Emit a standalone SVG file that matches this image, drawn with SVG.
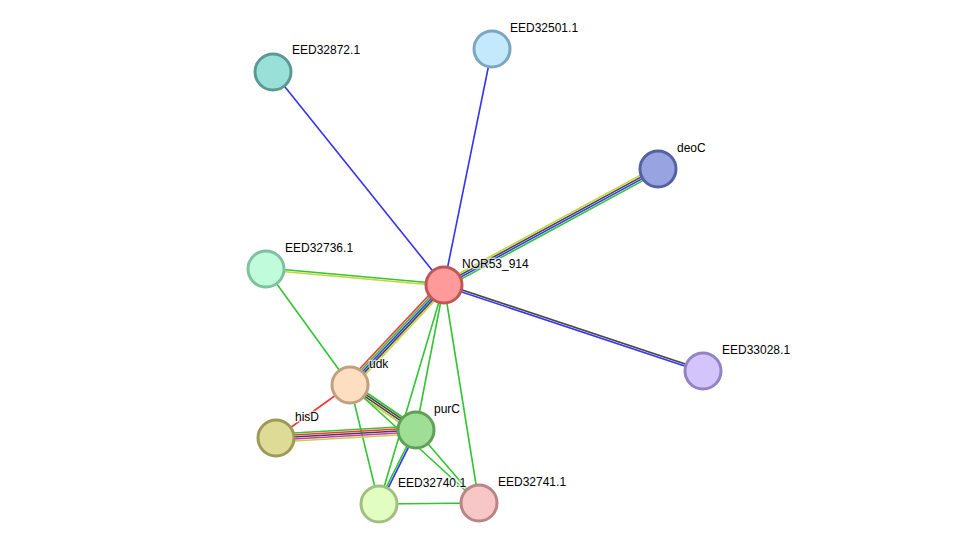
<svg xmlns="http://www.w3.org/2000/svg" width="975" height="550" viewBox="0 0 975 550">
<style>
.e line{stroke-width:1.6;fill:none}
.g{stroke:#33c433}.b{stroke:#3333f0}.y{stroke:#c4d43a}.k{stroke:#444}.r{stroke:#f33}.m{stroke:#c3c}
.n circle{stroke-width:3}
.n text{font-family:"Liberation Sans",Arial,sans-serif;font-size:12px;fill:#000;stroke:#fff;stroke-width:2.5;stroke-opacity:0.7;paint-order:stroke;stroke-linejoin:round}
</style>
<rect width="975" height="550" fill="#fff"/>
<g id="edges" class="e">
<line class="b" x1="444" y1="285" x2="273" y2="72"/>
<line class="b" x1="444" y1="285" x2="492" y2="49"/>
<line class="y" x1="442.57" y1="282.36" x2="656.57" y2="166.36"/>
<line class="k" x1="443.52" y1="284.12" x2="657.52" y2="168.12"/>
<line class="b" x1="444.48" y1="285.88" x2="658.48" y2="169.88"/>
<line class="g" x1="445.43" y1="287.64" x2="659.43" y2="171.64"/>
<line class="g" x1="444.09" y1="284" x2="266.09" y2="268"/>
<line class="y" x1="443.91" y1="286" x2="265.91" y2="270"/>
<line class="k" x1="444.32" y1="284.05" x2="703.32" y2="370.05"/>
<line class="b" x1="443.68" y1="285.95" x2="702.68" y2="371.95"/>
<line class="r" x1="441.08" y1="282.26" x2="347.08" y2="382.26"/>
<line class="g" x1="442.54" y1="283.63" x2="348.54" y2="383.63"/>
<line class="b" x1="444" y1="285" x2="350" y2="385"/>
<line class="k" x1="445.46" y1="286.37" x2="351.46" y2="386.37"/>
<line class="y" x1="446.92" y1="287.74" x2="352.92" y2="387.74"/>
<line class="g" x1="444" y1="285" x2="416" y2="430"/>
<line class="g" x1="444" y1="285" x2="379" y2="504"/>
<line class="g" x1="444" y1="285" x2="479" y2="503"/>
<line class="g" x1="266" y1="269" x2="350" y2="385"/>
<line class="r" x1="350" y1="385" x2="276" y2="438"/>
<line class="g" x1="351.69" y1="382.52" x2="417.69" y2="427.52"/>
<line class="k" x1="350.56" y1="384.17" x2="416.56" y2="429.17"/>
<line class="k" x1="349.44" y1="385.83" x2="415.44" y2="430.83"/>
<line class="y" x1="348.31" y1="387.48" x2="414.31" y2="432.48"/>
<line class="g" x1="350" y1="385" x2="379" y2="504"/>
<line class="g" x1="350" y1="385" x2="479" y2="503"/>
<line class="g" x1="275.77" y1="434.01" x2="415.77" y2="426.01"/>
<line class="r" x1="275.89" y1="436" x2="415.89" y2="428"/>
<line class="k" x1="276" y1="438" x2="416" y2="430"/>
<line class="m" x1="276.11" y1="440" x2="416.11" y2="432"/>
<line class="y" x1="276.23" y1="441.99" x2="416.23" y2="433.99"/>
<line class="g" x1="415.11" y1="429.55" x2="378.11" y2="503.55"/>
<line class="b" x1="416.89" y1="430.45" x2="379.89" y2="504.45"/>
<line class="g" x1="416" y1="430" x2="479" y2="503"/>
<line class="g" x1="379" y1="504" x2="479" y2="503"/>
</g>
<g id="EED32872.1" class="n"><circle cx="273" cy="72" r="18" fill="#99e0d8" stroke="#5a9a90"/><text x="292" y="54">EED32872.1</text></g>
<g id="EED32501.1" class="n"><circle cx="492" cy="49" r="18" fill="#c4e9fc" stroke="#7ba6bf"/><text x="510" y="32">EED32501.1</text></g>
<g id="deoC" class="n"><circle cx="658" cy="169" r="18" fill="#98a3e1" stroke="#5561a1"/><text x="677" y="152">deoC</text></g>
<g id="EED32736.1" class="n"><circle cx="266" cy="269" r="18" fill="#c0fbdb" stroke="#81c29e"/><text x="285" y="252">EED32736.1</text></g>
<g id="EED33028.1" class="n"><circle cx="703" cy="371" r="18" fill="#d3c4fb" stroke="#9483c4"/><text x="722" y="354">EED33028.1</text></g>
<g id="NOR53_914" class="n"><circle cx="444" cy="285" r="18" fill="#ff9a9a" stroke="#c05656"/><text x="462" y="268">NOR53_914</text></g>
<g id="udk" class="n"><circle cx="350" cy="385" r="18" fill="#fddec1" stroke="#bfa07f"/><text x="369" y="368">udk</text></g>
<g id="hisD" class="n"><circle cx="276" cy="438" r="18" fill="#dddb95" stroke="#9c9a58"/><text x="295" y="421">hisD</text></g>
<g id="purC" class="n"><circle cx="416" cy="430" r="18" fill="#9fdf95" stroke="#5f9f58"/><text x="434" y="413">purC</text></g>
<g id="EED32740.1" class="n"><circle cx="379" cy="504" r="18" fill="#e1fdc1" stroke="#a1bf80"/><text x="398" y="487">EED32740.1</text></g>
<g id="EED32741.1" class="n"><circle cx="479" cy="503" r="18" fill="#f7c6c6" stroke="#ba8484"/><text x="498" y="486">EED32741.1</text></g>
</svg>
